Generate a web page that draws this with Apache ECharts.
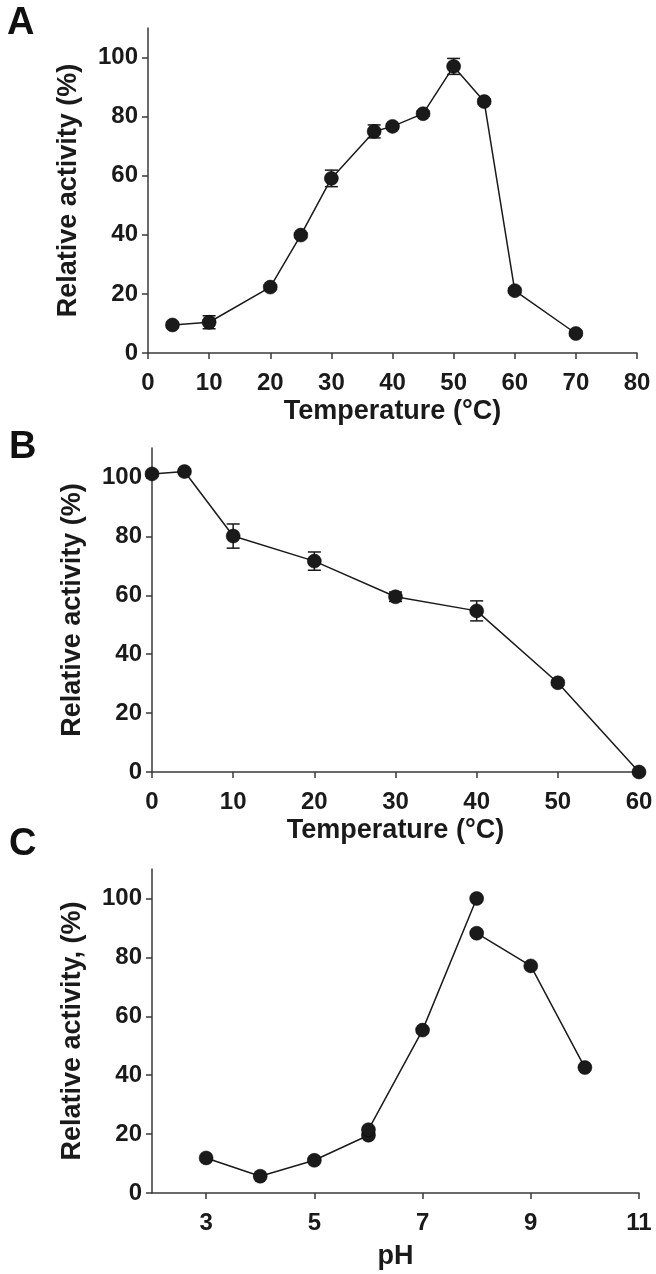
<!DOCTYPE html>
<html>
<head>
<meta charset="utf-8">
<script src="https://cdn.jsdelivr.net/npm/echarts@6/dist/echarts.min.js"></script>
<style>
html,body{margin:0;padding:0;background:#fff;}
#chart{width:656px;height:1274px;}
</style>
</head>
<body>
<div id="chart"></div>
<script>
// Panel A: temperature optimum
const aTemp = [4, 10, 20, 25, 30, 37, 40, 45, 50, 55, 60, 70];
const aAct  = [9.5, 10.4, 22.3, 39.9, 59.1, 75.0, 76.7, 81.0, 97.0, 85.1, 21.1, 6.6];
const aErr  = [0.8, 2.2, 0.8, 0.8, 2.8, 2.2, 0.8, 0.8, 2.7, 0.8, 0.8, 0.8];
// Panel B: thermostability
const bTemp = [0, 4, 10, 20, 30, 40, 50, 60];
const bAct  = [101.2, 102.0, 80.1, 71.6, 59.5, 54.7, 30.3, 0];
const bErr  = [0.8, 0.8, 4.1, 3.1, 1.6, 3.4, 0.8, 0.5];
// Panel C: pH optimum (three buffer series)
const c1pH = [3, 4, 5, 6];
const c1Act = [11.9, 5.7, 11.1, 19.6];
const c2pH = [6, 7, 8];
const c2Act = [21.5, 55.3, 100];
const c3pH = [8, 9, 10];
const c3Act = [88.2, 77.1, 42.6];
// Axis ticks
const yTicks = [0, 20, 40, 60, 80, 100];
const aXTicks = [0, 10, 20, 30, 40, 50, 60, 70, 80];
const bXTicks = [0, 10, 20, 30, 40, 50, 60];
const cXTicks = [3, 5, 7, 9, 11];
const yName = "Relative activity (%)";
const yNameC = "Relative activity, (%)";
const xNameT = "Temperature (\u00B0C)";
const xNamePH = "pH";

const FONT = "'Liberation Sans', Arial, sans-serif";
const INK = '#1a1a1a';
const AXC = '#3a3a3a';

const chart = echarts.init(document.getElementById('chart'), null, {renderer: 'canvas'});

function pairs(xs, ys){ return xs.map((x,i)=>[x, ys[i]]); }
function errData(xs, ys, es){ return xs.map((x,i)=>[x, ys[i]-es[i], ys[i]+es[i]]); }

function xAxis(gi, min, max, ticks, name, gap){
  return {
    type: 'value', gridIndex: gi, min: min, max: max,
    name: name, nameLocation: 'middle', nameGap: gap,
    nameTextStyle: {fontFamily: FONT, fontWeight: 'bold', fontSize: 27, color: INK},
    axisLine: {show: true, onZero: false, lineStyle: {color: AXC, width: 1.5}},
    axisTick: {show: true, length: 6, customValues: ticks, lineStyle: {color: AXC, width: 1.5}},
    axisLabel: {customValues: ticks, margin: 18, fontFamily: FONT, fontWeight: 'bold', fontSize: 24, color: INK},
    splitLine: {show: false}
  };
}
function yAxis(gi, name){
  return {
    type: 'value', gridIndex: gi, min: 0, max: 110,
    name: name, nameLocation: 'middle', nameGap: 66, nameRotate: 90,
    nameTextStyle: {fontFamily: FONT, fontWeight: 'bold', fontSize: 27, color: INK},
    axisLine: {show: true, onZero: false, lineStyle: {color: AXC, width: 1.5}},
    axisTick: {show: true, length: 6, customValues: yTicks, lineStyle: {color: AXC, width: 1.5}},
    axisLabel: {customValues: yTicks, margin: 10, fontFamily: FONT, fontWeight: 'bold', fontSize: 24, color: INK},
    splitLine: {show: false}
  };
}
function lineSeries(xi, data){
  return {
    type: 'line', xAxisIndex: xi, yAxisIndex: xi, data: data,
    symbol: 'circle', symbolSize: 14, z: 3,
    itemStyle: {color: INK, borderColor: '#000', borderWidth: 0.5},
    lineStyle: {color: INK, width: 1.5},
    animation: false
  };
}
function errSeries(xi, data){
  return {
    type: 'custom', xAxisIndex: xi, yAxisIndex: xi, data: data, z: 2,
    animation: false, silent: true,
    renderItem: function(params, api){
      const x = api.value(0);
      const lo = api.coord([x, api.value(1)]);
      const hi = api.coord([x, api.value(2)]);
      const hw = 6.5;
      const st = {stroke: INK, lineWidth: 1.5};
      return {type: 'group', children: [
        {type: 'line', shape: {x1: lo[0], y1: lo[1], x2: hi[0], y2: hi[1]}, style: st},
        {type: 'line', shape: {x1: lo[0]-hw, y1: lo[1], x2: lo[0]+hw, y2: lo[1]}, style: st},
        {type: 'line', shape: {x1: hi[0]-hw, y1: hi[1], x2: hi[0]+hw, y2: hi[1]}, style: st}
      ]};
    }
  };
}

const letterStyle = {fontFamily: FONT, fontWeight: 'bold', fontSize: 38, color: '#111'};

chart.setOption({
  backgroundColor: '#fff',
  animation: false,
  title: [
    {text: 'A', left: 2, top: 0, textStyle: letterStyle},
    {text: 'B', left: 4, top: 424, textStyle: letterStyle},
    {text: 'C', left: 4, top: 821, textStyle: letterStyle}
  ],
  grid: [
    {left: 148, right: 19, top: 28, height: 325},
    {left: 152, right: 17, top: 448, height: 324},
    {left: 152, right: 17, top: 869, height: 324}
  ],
  xAxis: [
    xAxis(0, 0, 80, aXTicks, xNameT, 45),
    xAxis(1, 0, 60, bXTicks, xNameT, 45),
    xAxis(2, 2, 11, cXTicks, xNamePH, 50)
  ],
  yAxis: [yAxis(0, yName), yAxis(1, yName), yAxis(2, yNameC)],
  series: [
    errSeries(0, errData(aTemp, aAct, aErr)),
    lineSeries(0, pairs(aTemp, aAct)),
    errSeries(1, errData(bTemp, bAct, bErr)),
    lineSeries(1, pairs(bTemp, bAct)),
    lineSeries(2, pairs(c1pH, c1Act)),
    lineSeries(2, pairs(c2pH, c2Act)),
    lineSeries(2, pairs(c3pH, c3Act))
  ]
});
</script>
</body>
</html>
